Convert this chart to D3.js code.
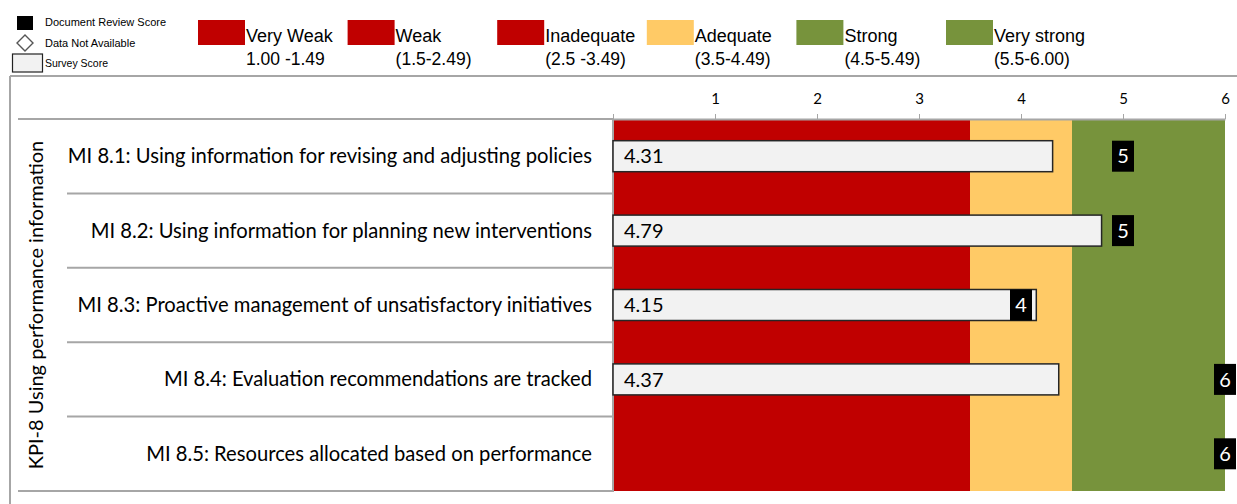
<!DOCTYPE html>
<html>
<head>
<meta charset="utf-8">
<script src="https://cdn.jsdelivr.net/npm/d3@7"></script>
<style>
  body { margin: 0; background: #fff; }
  svg { display: block; }
</style>
</head>
<body>
<svg id="chart" width="1237" height="504"></svg>
<script>
// data
var indicators = [
    "MI 8.1: Using information for revising and adjusting policies",
    "MI 8.2: Using information for planning new interventions",
    "MI 8.3: Proactive management of unsatisfactory initiatives",
    "MI 8.4: Evaluation recommendations are tracked",
    "MI 8.5: Resources allocated based on performance"
]
var surveyScores = [4.31, 4.79, 4.15, 4.37, null]
var reviewScores = [5, 5, 4, 6, 6]
var kpiLabel = "KPI-8 Using performance information"

var legendNames = ["Very Weak", "Weak", "Inadequate", "Adequate", "Strong", "Very strong"]
var legendRanges = ["1.00 -1.49", "(1.5-2.49)", "(2.5 -3.49)", "(3.5-4.49)", "(4.5-5.49)", "(5.5-6.00)"]
var legendColors = ["#C00000", "#C00000", "#C00000", "#FFCA66", "#77933C", "#77933C"]

// background bands behind the bars
var bandStart = [0, 3.5, 4.5]
var bandEnd = [3.5, 4.5, 6]
var bandColors = ["#C00000", "#FFCA66", "#77933C"]

var tickValues = [0, 1, 2, 3, 4, 5, 6]

var svg = d3.select("#chart")
var sans = "'Liberation Sans', Arial, sans-serif"
var calib = "Lato, 'Open Sans', sans-serif"

var x = d3.scaleLinear().domain([0, 6]).range([613, 1225])
var y = d3.scaleBand().domain(indicators).range([119, 491])

// outer frame
svg.append("line").attr("x1", 10).attr("x2", 1237).attr("y1", 76).attr("y2", 76)
    .attr("stroke", "#A6A6A6").attr("stroke-width", 2)
svg.append("line").attr("x1", 10).attr("x2", 10).attr("y1", 76).attr("y2", 504)
    .attr("stroke", "#A6A6A6").attr("stroke-width", 2)

// legend - symbols
var lg = svg.append("g").attr("font-family", sans).attr("fill", "#000")
lg.append("rect").attr("x", 17).attr("y", 16).attr("width", 16).attr("height", 14).attr("fill", "#000")
lg.append("text").attr("x", 45).attr("y", 26).attr("font-size", 11).text("Document Review Score")
lg.append("path").attr("d", "M25,35 L33,43 L25,51 L17,43 Z")
    .attr("fill", "#fff").attr("stroke", "#555").attr("stroke-width", 1.4)
lg.append("text").attr("x", 45).attr("y", 47).attr("font-size", 11).text("Data Not Available")
lg.append("rect").attr("x", 12.5).attr("y", 54).attr("width", 30).attr("height", 18)
    .attr("fill", "#F2F2F2").attr("stroke", "#222").attr("stroke-width", 1.2)
lg.append("text").attr("x", 45).attr("y", 67).attr("font-size", 10.5).text("Survey Score")

// legend - rating bands
var items = lg.selectAll("g.item").data(legendNames).enter().append("g")
    .attr("class", "item")
    .attr("transform", function (d, i) { return "translate(" + (198 + i * 149.6) + ",0)" })
items.append("rect").attr("x", 0).attr("y", 20).attr("width", 47).attr("height", 25)
    .attr("fill", function (d, i) { return legendColors[i] })
items.append("text").attr("x", 48).attr("y", 42).attr("font-size", 18).text(function (d) { return d })
items.append("text").attr("x", 48).attr("y", 65).attr("font-size", 17.5)
    .text(function (d, i) { return legendRanges[i] })

// background bands
svg.append("g").selectAll("rect").data(bandStart).enter().append("rect")
    .attr("x", function (d) { return x(d) })
    .attr("width", function (d, i) { return x(bandEnd[i]) - x(d) })
    .attr("y", 119).attr("height", 372)
    .attr("fill", function (d, i) { return bandColors[i] })

// top axis
var axis = svg.append("g").attr("transform", "translate(0,119)")
    .call(d3.axisTop(x).tickValues(tickValues).tickSize(5).tickSizeOuter(0)
        .tickFormat(function (d) { return d === 0 ? "" : d }))
axis.select(".domain").attr("stroke", "#A6A6A6").attr("stroke-width", 2)
axis.selectAll(".tick line").attr("stroke", "#A6A6A6")
axis.selectAll(".tick text").attr("font-family", calib).attr("font-size", 15)
    .attr("fill", "#000").attr("dy", "-0.45em")

// category label panel
var rowLines = [119].concat(indicators.map(function (d) { return y(d) + y.bandwidth() }))
svg.append("g").selectAll("line").data(rowLines).enter().append("line")
    .attr("x1", function (d, i) { return (i === 0 || i === rowLines.length - 1) ? 18 : 67 })
    .attr("x2", 613)
    .attr("y1", function (d) { return d }).attr("y2", function (d) { return d })
    .attr("stroke", "#A6A6A6").attr("stroke-width", 2)
svg.append("line").attr("x1", 613).attr("x2", 613).attr("y1", 119).attr("y2", 492)
    .attr("stroke", "#A6A6A6").attr("stroke-width", 2)

svg.append("g").selectAll("text").data(indicators).enter().append("text")
    .attr("x", 592)
    .attr("y", function (d) { return y(d) + y.bandwidth() / 2 })
    .attr("dy", "0.35em")
    .attr("text-anchor", "end")
    .attr("font-family", calib).attr("font-size", 20.2).attr("fill", "#000")
    .text(function (d) { return d })

svg.append("text")
    .attr("transform", "translate(43," + (119 + 491) / 2 + ") rotate(-90)")
    .attr("text-anchor", "middle")
    .attr("font-family", calib).attr("font-size", 20).attr("fill", "#000")
    .text(kpiLabel)

// survey score bars
var barH = 31
var rows = indicators.map(function (d, i) { return { name: d, survey: surveyScores[i], review: reviewScores[i] } })
var bars = svg.append("g").selectAll("g").data(rows.filter(function (d) { return d.survey != null })).enter().append("g")
bars.append("rect")
    .attr("x", x(0))
    .attr("y", function (d) { return y(d.name) + (y.bandwidth() - barH) / 2 })
    .attr("width", function (d) { return x(d.survey) - x(0) })
    .attr("height", barH)
    .attr("fill", "#F2F2F2").attr("stroke", "#262626").attr("stroke-width", 1.5)
bars.append("text")
    .attr("x", x(0) + 11)
    .attr("y", function (d) { return y(d.name) + y.bandwidth() / 2 })
    .attr("dy", "0.36em")
    .attr("font-family", calib).attr("font-size", 20).attr("fill", "#000")
    .text(function (d) { return d.survey.toFixed(2) })

// document review scores
var marks = svg.append("g").selectAll("g").data(rows).enter().append("g")
    .attr("transform", function (d) { return "translate(" + x(d.review) + "," + (y(d.name) + y.bandwidth() / 2) + ")" })
marks.append("rect").attr("x", -11).attr("y", -barH / 2).attr("width", 22).attr("height", barH).attr("fill", "#000")
marks.append("text").attr("text-anchor", "middle").attr("dy", "0.36em")
    .attr("font-family", calib).attr("font-size", 20).attr("fill", "#fff")
    .text(function (d) { return d.review })
</script>
</body>
</html>
